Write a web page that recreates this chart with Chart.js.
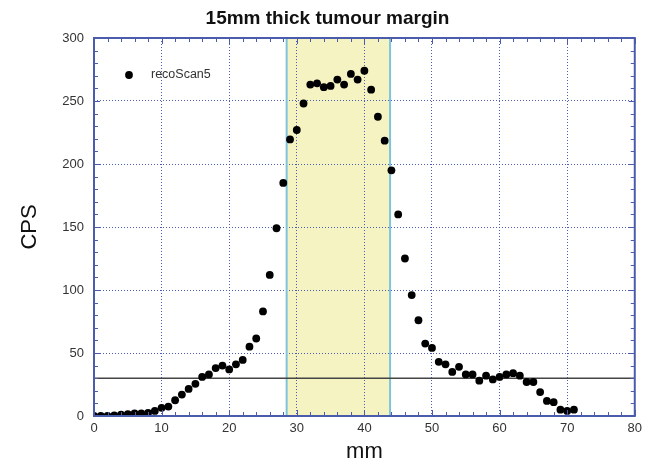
<!DOCTYPE html>
<html>
<head>
<meta charset="utf-8">
<script src="https://cdn.jsdelivr.net/npm/chart.js@4"></script>
<style>
  body { margin: 0; background: #fff; }
  #wrap { width: 647px; height: 464px; }
</style>
</head>
<body>
<div id="wrap"><canvas id="chart" width="647" height="464"></canvas></div>
<script>
// Scan data (distance in mm, counts per second)
const positions = [0, 1, 2, 3, 4, 5, 6, 7, 8, 9, 10, 11, 12, 13, 14, 15, 16, 17, 18, 19,
    20, 21, 22, 23, 24, 25, 26, 27, 28, 29, 30, 31, 32, 33, 34, 35, 36, 37, 38, 39,
    40, 41, 42, 43, 44, 45, 46, 47, 48, 49, 50, 51, 52, 53, 54, 55, 56, 57, 58, 59,
    60, 61, 62, 63, 64, 65, 66, 67, 68, 69, 70, 71];
const cps = [0, 0, 0, 0.5, 1, 1.5, 2, 2, 2.5, 4, 6.5, 7.5, 12.5, 17, 21.5, 25.5, 31, 33, 38, 40,
    37, 41, 44.5, 55, 61.5, 83, 112, 149, 185, 219.5, 227, 248, 263, 264, 261, 262, 267, 263, 271.5, 267,
    274, 259, 237.5, 218.5, 195, 160, 125, 96, 76, 57.5, 54, 43, 41, 35, 39, 33, 33, 28, 32, 29,
    31, 33, 34, 32, 27, 27, 19, 12, 11, 5, 4, 5];
const seriesName = 'recoScan5';

// Tumour margin band and threshold
const marginStart = 28.5;
const marginEnd = 43.8;
const threshold = 30;

// Axis ticks
const xTicks = [0, 10, 20, 30, 40, 50, 60, 70, 80];
const yTicks = [0, 50, 100, 150, 200, 250, 300];

const axisBlue = '#4a5cab';
const gridBlue = 'rgba(55, 75, 175, 0.9)';
const fontFamily = 'Arial, "Liberation Sans", Helvetica, sans-serif';

// yellow margin band, drawn under the grid
const bandPlugin = {
    id: 'band',
    beforeDraw(chart) {
        const { ctx, chartArea, scales } = chart;
        const x1 = scales.x.getPixelForValue(marginStart);
        const x2 = scales.x.getPixelForValue(marginEnd);
        ctx.save();
        ctx.fillStyle = '#f6f3c2';
        ctx.fillRect(x1, chartArea.top, x2 - x1, chartArea.bottom - chartArea.top);
        ctx.restore();
    },
    beforeDatasetsDraw(chart) {
        const { ctx, chartArea, scales } = chart;
        ctx.save();
        ctx.strokeStyle = '#7cc4dd';
        ctx.lineWidth = 2;
        [marginStart, marginEnd].forEach(v => {
            const x = scales.x.getPixelForValue(v);
            ctx.beginPath();
            ctx.moveTo(x, chartArea.top);
            ctx.lineTo(x, chartArea.bottom);
            ctx.stroke();
        });
        ctx.restore();
    }
};

// frame with inward ticks on all four sides + legend inside the plot
const framePlugin = {
    id: 'frame',
    afterDraw(chart) {
        const { ctx, chartArea, scales } = chart;
        const { left, right, top, bottom } = chartArea;
        ctx.save();
        ctx.strokeStyle = axisBlue;
        ctx.lineWidth = 1;
        ctx.beginPath();
        for (let v = scales.x.min; v <= scales.x.max; v += 2) {
            const x = Math.round(scales.x.getPixelForValue(v)) + 0.5;
            const len = v % 10 === 0 ? 6 : 4;
            ctx.moveTo(x, bottom); ctx.lineTo(x, bottom - len);
            ctx.moveTo(x, top); ctx.lineTo(x, top + len);
        }
        for (let v = scales.y.min; v <= scales.y.max; v += 10) {
            const y = Math.round(scales.y.getPixelForValue(v)) + 0.5;
            const len = v % 50 === 0 ? 6 : 4;
            ctx.moveTo(left, y); ctx.lineTo(left + len, y);
            ctx.moveTo(right, y); ctx.lineTo(right - len, y);
        }
        ctx.stroke();
        ctx.lineWidth = 2;
        ctx.strokeRect(left, top, right - left, bottom - top);

        // legend
        const lx = left + 35;
        const ly = top + 37;
        ctx.fillStyle = '#000';
        ctx.beginPath();
        ctx.arc(lx, ly, 3.9, 0, Math.PI * 2);
        ctx.fill();
        ctx.fillStyle = '#333';
        ctx.font = '12.5px ' + fontFamily;
        ctx.textBaseline = 'middle';
        ctx.fillText(chart.data.datasets[0].label, lx + 22, ly);
        ctx.restore();
    }
};

const ctx = document.getElementById('chart').getContext('2d');

new Chart(ctx, {
    type: 'scatter',
    data: {
        datasets: [{
            label: seriesName,
            data: positions.map((x, i) => ({ x: x, y: cps[i] })),
            pointRadius: 3.9,
            pointBackgroundColor: '#000',
            pointBorderWidth: 0
        }, {
            type: 'line',
            label: 'threshold',
            data: [{ x: 0, y: threshold }, { x: 80, y: threshold }],
            borderColor: '#444',
            borderWidth: 1.5,
            pointRadius: 0
        }]
    },
    options: {
        responsive: false,
        animation: false,
        devicePixelRatio: 1,
        events: [],
        layout: { padding: { left: 18, right: 10, top: 0, bottom: 0 } },
        plugins: {
            legend: { display: false },
            tooltip: { enabled: false },
            title: {
                display: true,
                text: '15mm thick tumour margin',
                color: '#111',
                font: { family: fontFamily, size: 19, weight: 'bold' },
                padding: { top: 7, bottom: 8.2 }
            }
        },
        scales: {
            x: {
                type: 'linear',
                min: 0,
                max: 80,
                afterBuildTicks: scale => { scale.ticks = xTicks.map(v => ({ value: v })); },
                afterFit: scale => { scale.height = 48; },
                grid: { color: gridBlue, lineWidth: 1, drawTicks: false },
                border: { display: false, dash: [1, 2] },
                ticks: { color: '#333', padding: 5, font: { family: fontFamily, size: 13 } },
                title: {
                    display: true,
                    text: 'mm',
                    color: '#111',
                    font: { family: fontFamily, size: 22, lineHeight: 1 },
                    padding: { top: 0, bottom: 1 }
                }
            },
            y: {
                min: 0,
                max: 300,
                afterBuildTicks: scale => { scale.ticks = yTicks.map(v => ({ value: v })); },
                afterFit: scale => { scale.width = 76; },
                grid: { color: gridBlue, lineWidth: 1, drawTicks: false },
                border: { display: false, dash: [1, 2] },
                ticks: { color: '#333', padding: 10, font: { family: fontFamily, size: 13 } },
                title: {
                    display: true,
                    text: 'CPS',
                    color: '#111',
                    font: { family: fontFamily, size: 22, lineHeight: 1 },
                    padding: { top: 1, bottom: 0 }
                }
            }
        }
    },
    plugins: [bandPlugin, framePlugin]
});
</script>
</body>
</html>
